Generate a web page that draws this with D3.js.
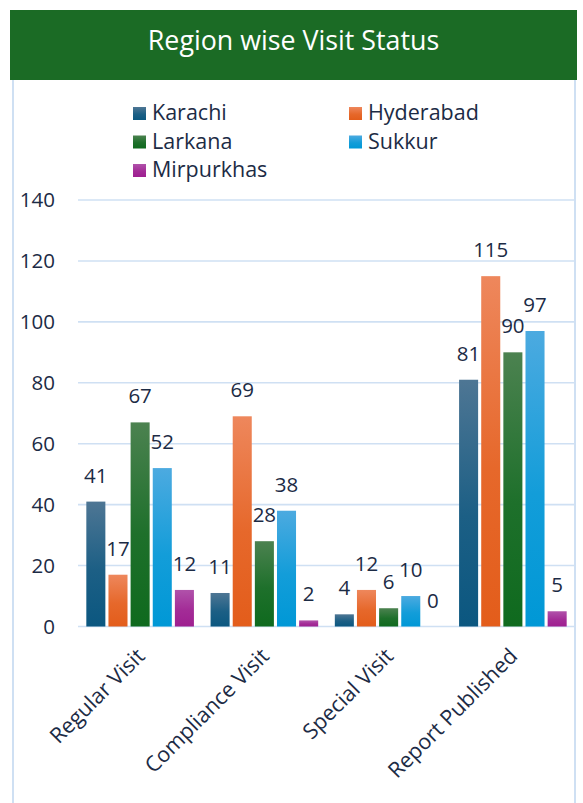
<!DOCTYPE html>
<html>
<head>
<meta charset="utf-8">
<script src="https://cdn.jsdelivr.net/npm/d3@7"></script>
<style>
  html, body { margin: 0; padding: 0; background: #ffffff; }
  svg { display: block; }
  text { font-family: "Open Sans", "Noto Sans", sans-serif; }
</style>
</head>
<body>
<div id="chart"></div>
<script>
const title = "Region wise Visit Status";
const categories = ["Regular Visit", "Compliance Visit", "Special Visit", "Report Published"];
const seriesNames = ["Karachi", "Hyderabad", "Larkana", "Sukkur", "Mirpurkhas"];
const karachi = [41, 11, 4, 81];
const hyderabad = [17, 69, 12, 115];
const larkana = [67, 28, 6, 90];
const sukkur = [52, 38, 10, 97];
const mirpurkhas = [12, 2, 0, 5];
const yTicks = [0, 20, 40, 60, 80, 100, 120, 140];
const colorsTop = ["#4e7694", "#ee875c", "#4c8250", "#4caae0", "#b052aa"];
const colorsBottom = ["#0b5780", "#e35d1b", "#0f6a1e", "#0098d6", "#9e1f90"];

const seriesValues = [karachi, hyderabad, larkana, sukkur, mirpurkhas];

const W = 583, H = 803;
const textColor = "#1c2b45";
const gridColor = "#cfe0f3";
const labelSize = 20.5;

const svg = d3.select("#chart").append("svg")
  .attr("width", W).attr("height", H);

const defs = svg.append("defs");
seriesNames.forEach((s, i) => {
  const g = defs.append("linearGradient")
    .attr("id", "grad" + i)
    .attr("x1", 0).attr("y1", 0).attr("x2", 0).attr("y2", 1);
  g.append("stop").attr("offset", "0%").attr("stop-color", colorsTop[i]);
  g.append("stop").attr("offset", "55%").attr("stop-color", d3.interpolateRgb(colorsTop[i], colorsBottom[i])(0.75));
  g.append("stop").attr("offset", "100%").attr("stop-color", colorsBottom[i]);
});

// frame borders
svg.append("line").attr("x1", 13).attr("x2", 13).attr("y1", 80).attr("y2", H)
  .attr("stroke", gridColor).attr("stroke-width", 2);
svg.append("line").attr("x1", 575).attr("x2", 575).attr("y1", 80).attr("y2", H)
  .attr("stroke", gridColor).attr("stroke-width", 2);

// header
svg.append("rect").attr("x", 10).attr("y", 10).attr("width", 567).attr("height", 70)
  .attr("fill", "#1b6b25");
svg.append("text").attr("x", 293.5).attr("y", 50)
  .attr("text-anchor", "middle").attr("fill", "#ffffff")
  .attr("font-size", 26.8).text(title);

// scales
const y = d3.scaleLinear().domain([0, 140]).range([626.5, 200]);
const x0 = d3.scaleBand().domain(categories).range([78, 575])
  .paddingInner(0.134).paddingOuter(0.067);
const x1 = d3.scaleBand().domain(seriesNames).range([0, x0.bandwidth()])
  .paddingInner(0.14);

// gridlines
svg.append("g").selectAll("line").data(yTicks).join("line")
  .attr("x1", 78).attr("x2", 575)
  .attr("y1", d => y(d)).attr("y2", d => y(d))
  .attr("stroke", gridColor).attr("stroke-width", 1.6);

// y axis labels
const yAxis = d3.axisLeft(y).tickValues(yTicks).tickSize(0).tickPadding(0);
const yg = svg.append("g").attr("transform", "translate(55,0)").call(yAxis);
yg.select(".domain").remove();
yg.selectAll("text").attr("font-size", labelSize).attr("fill", textColor)
  .attr("font-family", "\"Open Sans\", sans-serif");

// bars
const groups = svg.append("g").selectAll("g").data(categories).join("g")
  .attr("transform", d => `translate(${x0(d)},0)`);

groups.each(function(cat, ci) {
  const g = d3.select(this);
  const rows = seriesNames.map((s, si) => ({ s, si, v: seriesValues[si][ci] }));
  g.selectAll("rect").data(rows).join("rect")
    .attr("x", d => x1(d.s))
    .attr("width", x1.bandwidth())
    .attr("y", d => y(d.v))
    .attr("height", d => y(0) - y(d.v))
    .attr("fill", d => `url(#grad${d.si})`);
  g.selectAll("text").data(rows).join("text")
    .attr("x", d => x1(d.s) + x1.bandwidth() / 2)
    .attr("y", d => y(d.v) - 19)
    .attr("text-anchor", "middle")
    .attr("font-size", labelSize).attr("fill", textColor)
    .text(d => d.v);
});

// x axis labels
const xAxis = d3.axisBottom(x0).tickSize(0).tickPadding(0);
const xg = svg.append("g").attr("transform", "translate(0,626.5)").call(xAxis);
xg.select(".domain").remove();
xg.selectAll("text")
  .attr("font-size", 21.5).attr("fill", textColor)
  .attr("font-family", "\"Open Sans\", sans-serif")
  .attr("text-anchor", "end")
  .attr("dy", 0).attr("y", 0)
  .attr("transform", "translate(6,31) rotate(-45)");

// legend
const legendItems = seriesNames.map((s, i) => ({
  s, i,
  x: i % 2 === 0 ? 133 : 349,
  y: 120 + Math.floor(i / 2) * 28.5
}));
const lg = svg.append("g").selectAll("g").data(legendItems).join("g")
  .attr("transform", d => `translate(${d.x},${d.y})`);
lg.append("rect").attr("x", 0).attr("y", -13).attr("width", 13).attr("height", 13)
  .attr("fill", d => `url(#grad${d.i})`);
lg.append("text").attr("x", 19).attr("y", 0)
  .attr("font-size", 21.5).attr("fill", textColor)
  .text(d => d.s);
</script>
</body>
</html>
